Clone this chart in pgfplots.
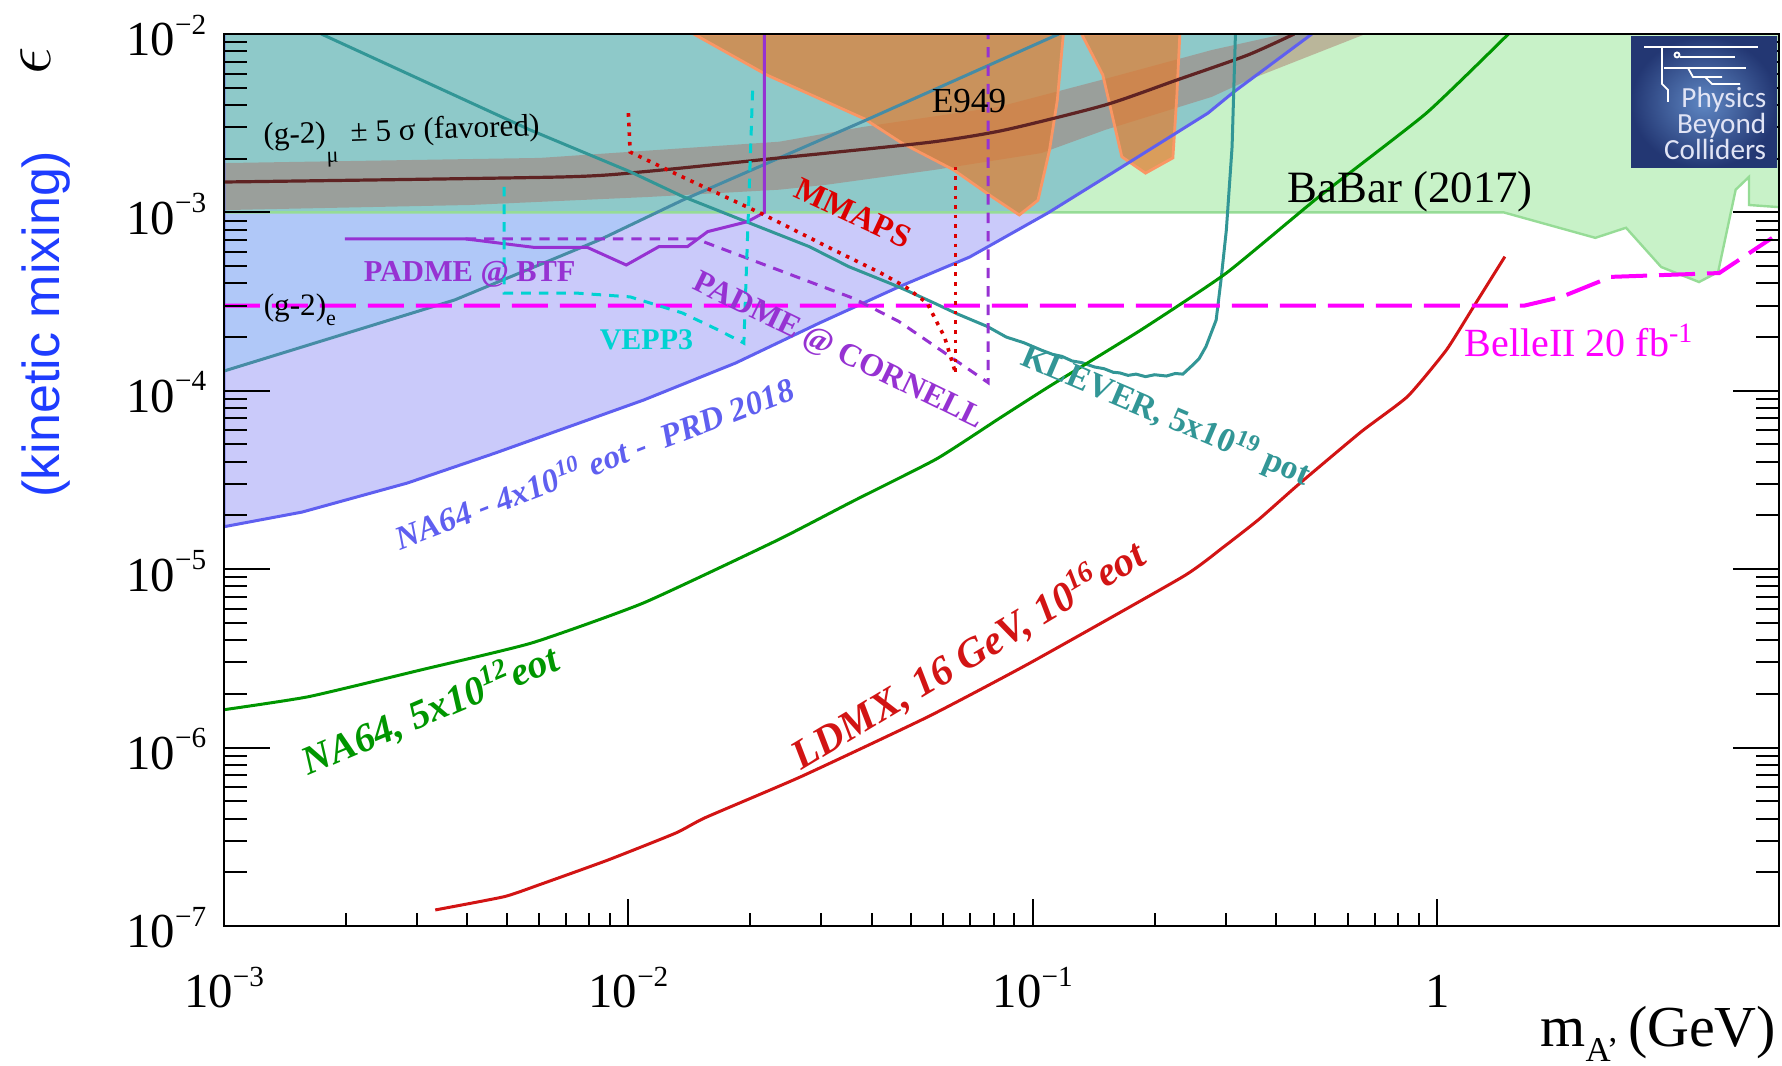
\documentclass[border=0pt]{standalone}
\usepackage{pgfplots}
\pgfplotsset{compat=1.18}
\usepackage{fontspec}
\setmainfont{Liberation Serif}
\setsansfont{Liberation Sans}
\newfontfamily\carlito{Carlito}
\definecolor{babar}{RGB}{200,242,200}
\definecolor{babaredge}{RGB}{150,220,150}
\definecolor{navio}{RGB}{202,202,250}
\definecolor{naedge}{RGB}{95,95,240}
\definecolor{tealreg}{RGB}{142,201,201}
\definecolor{gtwoe}{RGB}{176,200,248}
\definecolor{band}{RGB}{170,110,100}
\definecolor{eorange}{RGB}{225,125,50}
\definecolor{eedge}{RGB}{250,150,100}
\definecolor{klever}{RGB}{50,150,150}
\definecolor{gtwoeline}{RGB}{70,140,165}
\definecolor{gmu}{RGB}{95,35,35}
\definecolor{nagreen}{RGB}{0,150,0}
\definecolor{ldmx}{RGB}{210,20,20}
\definecolor{belle}{RGB}{255,0,255}
\definecolor{padme}{RGB}{150,50,210}
\definecolor{vepp}{RGB}{0,210,210}
\definecolor{mmaps}{RGB}{220,0,0}
\definecolor{ylab}{RGB}{30,60,255}
\definecolor{logobg}{RGB}{35,55,115}
\definecolor{logolt}{RGB}{95,135,195}
\newcommand\fs[1]{\fontsize{#1}{#1}\selectfont}
\newcommand\sps[1]{\raisebox{0.45em}{\fs{7.3}#1}}
\newcommand\tl[1]{10\sps{−#1}}
\begin{document}
\begin{tikzpicture}
\path[use as bounding box] (-56pt,-35pt) rectangle (389.5pt,231.5pt);
\begin{axis}[
  at={(0,0)}, anchor=south west,
  scale only axis, width=388.75pt, height=223pt,
  xmode=log, ymode=log,
  xmin=1e-3, xmax=7, ymin=1e-7, ymax=1e-2,
  xtick={1e-3,1e-2,1e-1,1},
  xticklabels={\tl{3},\tl{2},\tl{1},1},
  ytick=\empty,
  major tick length=6.75pt, minor tick length=3.25pt,
  tick style={black, line width=0.5pt},
  axis line style={line width=0.7pt},
  xticklabel style={anchor=base, yshift=-20.5pt, inner sep=0pt, font=\fs{12.2}},
]
% BaBar
\addplot[fill=babar, draw=none] coordinates {(1e-3,1e-2) (1e-3,1e-3) (1.46,1e-3) (2.46,7.2e-4) (2.93,8.2e-4) (3.58,4.94e-4) (4.44,4.07e-4) (4.95,4.63e-4) (5.47,1.34e-3) (5.9,1.58e-3) (5.9,1.10e-3) (7,1.07e-3) (7,1e-2)} --cycle;
% NA64 4e10 region
\addplot[fill=navio, draw=none] coordinates {(1e-3,1e-2) (1e-3,1.73e-5) (1.56e-3,2.09e-5) (2.84e-3,3.04e-5) (4.69e-3,4.48e-5) (1.09e-2,8.87e-5) (1.84e-2,1.43e-4) (2.97e-2,2.40e-4) (4.66e-2,3.82e-4) (6.98e-2,5.62e-4) (0.109,9.93e-4) (0.157,1.66e-3) (0.271,3.6e-3) (0.314,4.73e-3) (0.49,1e-2)} --cycle;
% teal overlap
\addplot[fill=tealreg, draw=none] coordinates {(1e-3,1e-2) (1e-3,1e-3) (0.109,1e-3) (0.157,1.66e-3) (0.271,3.6e-3) (0.314,4.73e-3) (0.49,1e-2)} --cycle;
% (g-2)_e region
\addplot[fill=gtwoe, draw=none] coordinates {(1e-3,1.29e-4) (3.72e-3,3.23e-4) (8.47e-3,7.0e-4) (1.17e-2,1e-3) (1e-3,1e-3)} --cycle;
% BaBar edge
\addplot[babaredge, line width=0.6pt] coordinates {(1e-3,1e-3) (1.46,1e-3) (2.46,7.2e-4) (2.93,8.2e-4) (3.58,4.94e-4) (4.44,4.07e-4) (4.95,4.63e-4) (5.47,1.34e-3) (5.9,1.58e-3) (5.9,1.10e-3) (7,1.07e-3)};
% (g-2)_mu band
\addplot[fill=band, fill opacity=0.45, draw=none] coordinates {(1e-3,1.89e-3) (6.05e-3,2.02e-3) (2.36e-2,2.49e-3) (3.79e-2,3.01e-3) (8.22e-2,3.9e-3) (0.151,5.6e-3) (0.277,8.13e-3) (0.418,1e-2) (0.665,1e-2) (0.340,5.5e-3) (0.277,4.44e-3) (0.151,2.90e-3) (0.105,2.15e-3) (5.71e-2,1.73e-3) (3.10e-2,1.43e-3) (2.36e-2,1.34e-3) (1.12e-2,1.22e-3) (4.05e-3,1.10e-3) (1e-3,1.03e-3)} --cycle;
% E949
\addplot[fill=eorange, fill opacity=0.72, draw=eedge, line width=0.7pt] coordinates {(1.45e-2,1e-2) (2.20e-2,5.89e-3) (3.84e-2,3.34e-3) (4.74e-2,2.45e-3) (6.37e-2,1.73e-3) (7.94e-2,1.22e-3) (9.26e-2,9.67e-4) (0.103,1.17e-3) (0.110,2.24e-3) (0.115,4.27e-3) (0.119,1e-2)} --cycle;
\addplot[fill=eorange, fill opacity=0.72, draw=eedge, line width=0.7pt] coordinates {(0.132,1e-2) (0.149,5.89e-3) (0.166,2.05e-3) (0.190,1.66e-3) (0.222,2.02e-3) (0.227,4.44e-3) (0.231,1e-2)} --cycle;
% NA64 4e10 edge
\addplot[naedge, line width=0.75pt] coordinates {(1e-3,1e-2) (1e-3,1.73e-5) (1.56e-3,2.09e-5) (2.84e-3,3.04e-5) (4.69e-3,4.48e-5) (1.09e-2,8.87e-5) (1.84e-2,1.43e-4) (2.97e-2,2.40e-4) (4.66e-2,3.82e-4) (6.98e-2,5.62e-4) (0.109,9.93e-4) (0.157,1.66e-3) (0.271,3.6e-3) (0.314,4.73e-3) (0.49,1e-2)};
% (g-2)_e line
\addplot[gtwoeline, line width=0.75pt] coordinates {(1e-3,1.29e-4) (3.72e-3,3.23e-4) (8.47e-3,7.0e-4) (1.36e-2,1.17e-3) (3.88e-2,3.3e-3) (0.116,1e-2)};
% (g-2)_mu central
\addplot[gmu, line width=0.8pt, smooth, tension=0.4] coordinates {(1e-3,1.48e-3) (6.87e-3,1.58e-3) (1.12e-2,1.70e-3) (2.36e-2,2.02e-3) (3.10e-2,2.15e-3) (5.71e-2,2.49e-3) (8.55e-2,2.90e-3) (0.151,4.0e-3) (0.227,5.52e-3) (0.340,7.62e-3) (0.443,1e-2)};
% KLEVER
\addplot[klever, line width=0.75pt] coordinates {(1.74e-3,1e-2) (5.71e-3,2.90e-3) (1.01e-2,1.69e-3) (1.36e-2,1.23e-3) (1.99e-2,8.73e-4) (2.80e-2,6.43e-4) (3.51e-2,4.96e-4) (4.5e-2,3.95e-4) (4.85e-2,3.67e-4) (5.71e-2,3.10e-4) (6.5e-2,2.7e-4) (7.73e-2,2.29e-4) (8.6e-2,2.0e-4) (9.5e-2,1.86e-4) (0.105,1.69e-4) (0.112,1.60e-4) (0.118,1.56e-4) (0.125,1.47e-4) (0.132,1.44e-4) (0.142,1.36e-4) (0.150,1.33e-4) (0.158,1.27e-4) (0.164,1.26e-4) (0.172,1.22e-4) (0.180,1.24e-4) (0.190,1.20e-4) (0.200,1.23e-4) (0.214,1.21e-4) (0.225,1.25e-4) (0.235,1.24e-4) (0.249,1.40e-4) (0.258,1.52e-4) (0.268,1.77e-4) (0.284,2.49e-4) (0.292,4.18e-4) (0.301,7.96e-4) (0.311,2.33e-3) (0.317,1e-2)};
% NA64 5e12
\addplot[nagreen, line width=0.75pt, smooth, tension=0.3] coordinates {(1e-3,1.63e-6) (1.62e-3,1.93e-6) (3.06e-3,2.72e-6) (5.77e-3,3.86e-6) (1.09e-2,6.47e-6) (2.33e-2,1.45e-5) (3.56e-2,2.38e-5) (5.78e-2,4.15e-5) (8.22e-2,6.95e-5) (0.110,1.06e-4) (0.185,2.19e-4) (0.301,4.57e-4) (0.509,1.22e-3) (0.940,3.6e-3) (1.50,1e-2)};
% LDMX
\addplot[ldmx, line width=0.75pt, smooth, tension=0.3] coordinates {(3.33e-3,1.23e-7) (4.93e-3,1.46e-7) (6.01e-3,1.70e-7) (8.89e-3,2.34e-7) (1.31e-2,3.32e-7) (1.55e-2,4.05e-7) (2.67e-2,6.87e-7) (5.51e-2,1.49e-6) (9.84e-2,2.98e-6) (0.235,9.08e-6) (0.296,1.33e-5) (0.362,1.90e-5) (0.455,3.0e-5) (0.649,5.9e-5) (0.845,9.3e-5) (1.053,1.69e-4) (1.23,2.96e-4) (1.47,5.65e-4)};
% BelleII
\addplot[belle, line width=1pt, dash pattern=on 9pt off 3pt] coordinates {(1e-3,3.0e-4) (1.64,3.0e-4) (2.03,3.36e-4) (2.69,4.35e-4) (4.98,4.57e-4) (6.73,7.19e-4)};
% PADME BTF
\addplot[padme, line width=0.75pt] coordinates {(1.99e-3,7.10e-4) (3.96e-3,7.10e-4) (5.83e-3,6.37e-4) (7.91e-3,6.37e-4) (9.88e-3,5.07e-4) (1.19e-2,6.43e-4) (1.40e-2,6.43e-4) (1.57e-2,7.80e-4) (1.97e-2,8.87e-4) (2.17e-2,1e-3) (2.17e-2,1e-2)};
% PADME Cornell
\addplot[padme, line width=0.75pt, dash pattern=on 2.6pt off 2pt] coordinates {(3.96e-3,7.10e-4) (1.47e-2,7.10e-4) (3.6e-2,3.3e-4) (4.66e-2,2.45e-4) (7.76e-2,1.11e-4) (7.76e-2,1e-2)};
% VEPP3
\addplot[vepp, line width=0.75pt, dash pattern=on 2.4pt off 2pt] coordinates {(4.93e-3,1.39e-3) (4.93e-3,3.53e-4) (7.43e-3,3.53e-4) (1.01e-2,3.36e-4) (1.36e-2,2.73e-4) (1.67e-2,2.19e-4) (1.93e-2,1.85e-4) (2.03e-2,5.05e-3)};
% MMAPS
\addplot[mmaps, line width=0.9pt, dash pattern=on 0.9pt off 1.5pt] coordinates {(1.0e-2,3.6e-3) (1.01e-2,2.18e-3) (1.36e-2,1.58e-3) (2.17e-2,9.67e-4) (3.10e-2,6.43e-4) (4.21e-2,4.57e-4) (4.85e-2,3.82e-4) (5.48e-2,3.10e-4) (6.05e-2,2.0e-4) (6.44e-2,1.26e-4)};
\addplot[mmaps, line width=0.9pt, dash pattern=on 0.9pt off 1.5pt] coordinates {(6.44e-2,1.80e-3) (6.44e-2,1.26e-4)};
\end{axis}
\begin{axis}[
  at={(0,0)}, anchor=south west,
  scale only axis, width=388.75pt, height=223pt,
  xmode=log, ymode=log,
  xmin=1e-3, xmax=7, ymin=1e-7, ymax=1e-2,
  xtick=\empty,
  ytick={1e-7,1e-6,1e-5,1e-4,1e-3,1e-2},
  yticklabels={\tl{7},\tl{6},\tl{5},\tl{4},\tl{3},\tl{2}},
  major tick length=11.5pt, minor tick length=5.75pt,
  tick style={black, line width=0.5pt},
  axis line style={line width=0.7pt},
  yticklabel style={anchor=base east, xshift=-4.25pt, yshift=-5.5pt, inner sep=0pt, font=\fs{12.2}},
]
\end{axis}
\begin{scope}[x=0.25pt,y=-0.25pt,shift={(-56pt,231.5pt)}]
% y-axis title
\node[rotate=90] at (36,61) {\fs{16}$\epsilon$};
\node[rotate=90, text=ylab, font=\sffamily\fs{13}] at (46,324) {(kinetic mixing)};
% x-axis title
\node[anchor=base east, inner sep=0pt, font=\fs{14.5}] at (1777,1047) {m\raisebox{-3.75pt}{\fs{8.7}A'}\,(GeV)};
% labels
\node[anchor=base west, inner sep=0pt, rotate=2, font=\fs{7.8}] at (263,145) {(g-2)\raisebox{-5pt}{\fs{5.5}μ}\, ± 5 σ (favored)};
\node[anchor=base west, inner sep=0pt, font=\fs{7.8}] at (263,316) {(g-2)\raisebox{-2.5pt}{\fs{5.5}e}};
\node[anchor=base west, inner sep=0pt, text=padme, font=\bfseries\fs{7.6}] at (363,282) {PADME @ BTF};
\node[anchor=base west, inner sep=0pt, text=vepp, font=\bfseries\fs{7.5}] at (599,350) {VEPP3};
\node[rotate=-25, inner sep=0pt, text=mmaps, font=\bfseries\fs{8.2}] at (853,213) {MMAPS};
\node[anchor=base, inner sep=0pt, font=\fs{8.8}] at (969,113) {E949};
\node[rotate=-26, inner sep=0pt, text=padme, font=\bfseries\fs{8}] at (838,352) {PADME @ CORNELL};
\node[rotate=-23, inner sep=0pt, text=klever, font=\bfseries\fs{8.5}] at (1166,416) {KLEVER, 5x10\textsuperscript{19} pot};
\node[rotate=21, inner sep=0pt, text=naedge, font=\bfseries\itshape\fs{8.3}] at (594,462) {NA64 - 4x10\textsuperscript{10} eot -\ \ PRD 2018};
\node[rotate=23, inner sep=0pt, text=nagreen, font=\bfseries\itshape\fs{10}] at (430,710) {NA64, 5x10\textsuperscript{12}eot};
\node[rotate=31, inner sep=0pt, text=ldmx, font=\bfseries\itshape\fs{10.3}] at (968,655) {LDMX, 16 GeV, 10\textsuperscript{16}eot};
\node[anchor=base west, inner sep=0pt, font=\fs{11.2}] at (1287,203) {BaBar (2017)};
\node[anchor=base west, inner sep=0pt, text=belle, font=\fs{10}] at (1464,357) {BelleII 20 fb\textsuperscript{-1}};
% logo
\shade[inner color=logolt, outer color=logobg] (1631,37) rectangle (1777,168);
\draw[white, line width=0.45pt] (1644,47) -- (1758,47);
\draw[white, line width=0.45pt] (1662,47) -- (1662,84) -- (1668,90) -- (1668,102);
\draw[white, line width=0.45pt] (1677,55) circle (2.5);
\draw[white, line width=0.45pt] (1680,57) -- (1735,57);
\draw[white, line width=0.45pt] (1664,68) -- (1746,68);
\draw[white, line width=0.45pt] (1688,68) -- (1693,77) -- (1722,77);
\draw[white, line width=0.45pt] (1705,77) -- (1712,84) -- (1740,84);
\node[anchor=base east, inner sep=0pt, text={rgb,255:red,225;green,228;blue,245}, font=\carlito\fs{7.3}] at (1767,108) {Physics};
\node[anchor=base east, inner sep=0pt, text={rgb,255:red,225;green,228;blue,245}, font=\carlito\fs{7.3}] at (1767,134) {Beyond};
\node[anchor=base east, inner sep=0pt, text={rgb,255:red,225;green,228;blue,245}, font=\carlito\fs{7.3}] at (1767,160) {Colliders};
\end{scope}
\end{tikzpicture}
\end{document}
